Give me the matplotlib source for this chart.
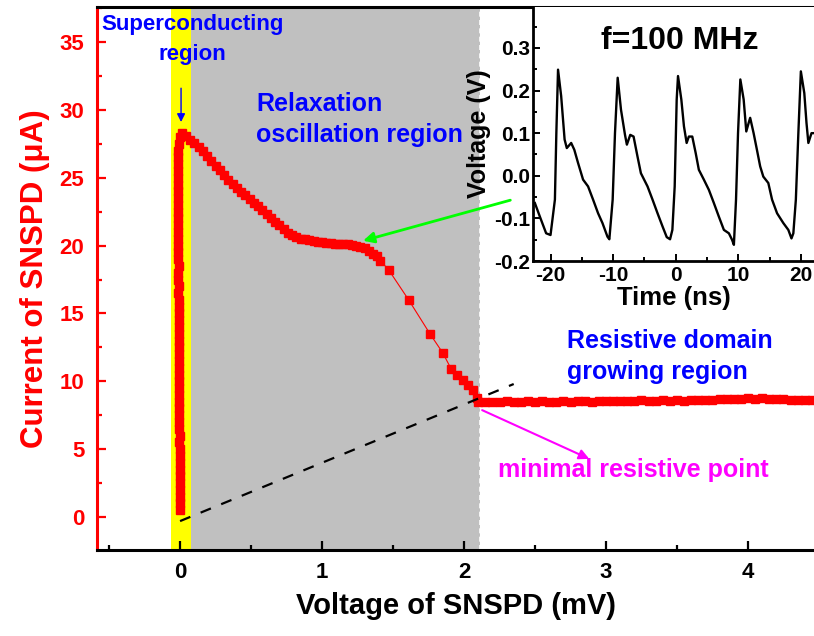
import numpy as np
import matplotlib
matplotlib.use('Agg')
import matplotlib.pyplot as plt
from matplotlib.ticker import MultipleLocator

# superconducting branch (V in mV, I in uA)
sc_v = [0.000, 0.002, -0.001, 0.001, 0.000, -0.002, 0.000, -0.001, -0.003, -0.002,
        -0.004, -0.003, -0.005, -0.004, -0.006, -0.005, -0.004, -0.006, -0.007, -0.005,
        -0.006, -0.008, -0.007, -0.006, -0.008, -0.007, -0.009, -0.008, -0.006, -0.008,
        -0.010, -0.009, -0.011, -0.010, -0.012, -0.011, -0.010, -0.012, -0.013, -0.011,
        -0.012, -0.014, -0.013, -0.012, -0.014, -0.015, -0.013, -0.014, -0.015, -0.014,
        -0.013, -0.015, -0.014, -0.012, -0.008, 0.000, 0.015]
sc_i = [0.5, 1.0, 1.5, 2.0, 2.5, 3.0, 3.5, 4.0, 4.5, 5.0,
        5.5, 6.0, 6.5, 7.0, 7.5, 8.0, 8.5, 9.0, 9.5, 10.0,
        10.5, 11.0, 11.5, 12.0, 12.5, 13.0, 13.5, 14.0, 14.5, 15.0,
        15.5, 16.0, 16.5, 17.0, 17.5, 18.0, 18.5, 19.0, 19.5, 20.0,
        20.5, 21.0, 21.5, 22.0, 22.5, 23.0, 23.5, 24.0, 24.5, 25.0,
        25.5, 26.0, 26.5, 27.0, 27.5, 28.0, 28.3]

# relaxation oscillation branch
relax_v = [0.04, 0.07, 0.10, 0.13, 0.16, 0.19, 0.22, 0.25, 0.28, 0.31,
           0.34, 0.37, 0.40, 0.43, 0.46, 0.49, 0.52, 0.55, 0.58, 0.61,
           0.64, 0.67, 0.70, 0.73, 0.76, 0.79, 0.82, 0.85, 0.88, 0.91,
           0.94, 0.97, 1.00, 1.03, 1.06, 1.09, 1.12, 1.15, 1.18, 1.21,
           1.24, 1.27, 1.30, 1.33, 1.36, 1.39, 1.41,
           1.47, 1.61, 1.76, 1.85, 1.91, 1.95, 1.99, 2.03, 2.06, 2.09]
relax_i = [28.1, 27.8, 27.55, 27.25, 26.95, 26.6, 26.25, 25.9, 25.55, 25.2,
           24.85, 24.55, 24.25, 23.95, 23.7, 23.45, 23.15, 22.9, 22.6, 22.3,
           22.0, 21.75, 21.5, 21.2, 20.95, 20.8, 20.65, 20.5, 20.45, 20.4,
           20.35, 20.3, 20.25, 20.2, 20.2, 20.15, 20.15, 20.1, 20.1, 20.05,
           20.0, 19.9, 19.8, 19.6, 19.4, 19.2, 18.9,
           18.2, 16.0, 13.5, 12.1, 10.9, 10.5, 10.1, 9.7, 9.35, 8.75]

# resistive domain growing branch
res_v = [2.10, 2.15, 2.20, 2.25, 2.30, 2.35, 2.40, 2.45, 2.50, 2.55,
         2.60, 2.65, 2.70, 2.75, 2.80, 2.85, 2.90, 2.95, 3.00, 3.05,
         3.10, 3.15, 3.20, 3.25, 3.30, 3.35, 3.40, 3.45, 3.50, 3.55,
         3.60, 3.65, 3.70, 3.75, 3.80, 3.85, 3.90, 3.95, 4.00, 4.05,
         4.10, 4.15, 4.20, 4.25, 4.30, 4.35, 4.40, 4.45, 4.50]
res_i = [8.50, 8.45, 8.50, 8.48, 8.55, 8.50, 8.47, 8.52, 8.50, 8.55,
         8.50, 8.48, 8.53, 8.50, 8.55, 8.52, 8.50, 8.55, 8.52, 8.58,
         8.55, 8.52, 8.56, 8.60, 8.55, 8.58, 8.62, 8.58, 8.60, 8.57,
         8.62, 8.65, 8.60, 8.65, 8.70, 8.66, 8.72, 8.68, 8.74, 8.70,
         8.75, 8.68, 8.72, 8.66, 8.62, 8.65, 8.60, 8.62, 8.60]

# load line through the minimal resistive point
load_v = [0.0, 2.35]
load_i = [-0.3, 9.8]

# inset: output pulses at f=100 MHz
pulse_t = [-22.5, -21.7, -20.7, -20.0, -19.3, -19.07, -18.8, -18.3, -17.75, -17.4,
           -16.7, -16.2, -15.6, -14.8, -14.0, -13.2, -12.4, -11.7, -10.9, -10.6,
           -10.07, -9.7, -9.27, -8.74, -8.1, -7.8, -7.26, -6.73, -6.1, -5.56,
           -4.5, -3.7, -2.9, -2.1, -1.43, -0.9, -0.53, -0.16, 0.16, 0.37,
           0.9, 1.32, 1.75, 2.1, 2.65, 3.2, 3.7, 4.5, 5.3, 6.1,
           6.9, 7.7, 8.5, 9.0, 9.3, 9.64, 9.96, 10.33, 10.86, 11.28,
           11.66, 11.9, 12.45, 12.98, 13.5, 14.0, 14.8, 15.4, 16.2, 17.2,
           18.0, 18.5, 18.8, 19.2, 19.6, 20.0, 20.55, 20.9, 21.2, 21.7, 22.1]
pulse_v = [-0.064, -0.096, -0.135, -0.139, -0.056, 0.10, 0.249, 0.187, 0.085, 0.065,
           0.077, 0.061, 0.03, -0.009, -0.025, -0.056, -0.088, -0.111, -0.143, -0.149,
           -0.056, 0.10, 0.230, 0.155, 0.096, 0.073, 0.096, 0.092, 0.045, 0.006,
           -0.025, -0.056, -0.088, -0.119, -0.144, -0.149, -0.127, -0.025, 0.179, 0.234,
           0.179, 0.116, 0.077, 0.092, 0.092, 0.053, 0.014, -0.009, -0.033, -0.064,
           -0.096, -0.127, -0.135, -0.150, -0.162, -0.056, 0.10, 0.226, 0.179, 0.104,
           0.124, 0.136, 0.10, 0.061, 0.022, -0.002, -0.017, -0.056, -0.088, -0.111,
           -0.127, -0.147, -0.135, -0.056, 0.10, 0.245, 0.194, 0.124, 0.077, 0.10, 0.10]

plt.rcParams['font.family'] = ['Liberation Sans', 'DejaVu Sans']
plt.rcParams['font.weight'] = 'bold'
plt.rcParams['axes.labelweight'] = 'bold'
plt.rcParams['axes.unicode_minus'] = False

W, H = 814, 636
fig = plt.figure(figsize=(W / 100, H / 100), dpi=100)
ax = fig.add_axes([97 / W, 1 - 550 / H, 1 - 97 / W, (550 - 7) / H])

# region shading
ax.axvspan(-0.063, 0.077, color='#ffff00', lw=0, zorder=0)
ax.axvspan(0.077, 2.11, color='#c0c0c0', lw=0, zorder=0)
ax.axvline(2.11, color='white', ls=(0, (3, 2)), lw=1.2, zorder=0.5)

iv_v = np.concatenate([sc_v, relax_v, res_v])
iv_i = np.concatenate([sc_i, relax_i, res_i])
ax.plot(iv_v, iv_i, color='red', lw=0.8, marker='s', ms=5.2, mec='red', mfc='red', zorder=3)
ax.plot(load_v, load_i, color='black', lw=1.6, dashes=(5, 5), zorder=4)

ax.set_xlim(-0.585, 4.465)
ax.set_ylim(-2.43, 37.58)
ax.xaxis.set_major_locator(MultipleLocator(1))
ax.xaxis.set_minor_locator(MultipleLocator(0.5))
ax.yaxis.set_major_locator(MultipleLocator(5))
ax.yaxis.set_minor_locator(MultipleLocator(2.5))

for s in ['left', 'bottom', 'top']:
    ax.spines[s].set_linewidth(2.2)
ax.spines['left'].set_color('red')
ax.spines['right'].set_visible(False)
ax.tick_params(which='both', direction='in', top=False, right=False, width=1.6)
ax.tick_params(which='major', length=6.5, labelsize=16, pad=9)
ax.tick_params(which='minor', length=3.5)
ax.tick_params(axis='y', which='both', colors='red')

ax.set_xlabel('Voltage of SNSPD (mV)', fontsize=21, labelpad=6)
ax.set_ylabel('Current of SNSPD (μA)', fontsize=22.5, color='red', labelpad=7)

# region labels and arrows
ax.text(0.085, 35.2, 'Superconducting\nregion', color='blue', fontsize=16,
        ha='center', va='center', linespacing=1.6, zorder=5)
ax.text(0.535, 29.3, 'Relaxation\noscillation region', color='blue', fontsize=18,
        ha='left', va='center', linespacing=1.36, zorder=5)
ax.text(2.725, 11.85, 'Resistive domain\ngrowing region', color='blue', fontsize=18,
        ha='left', va='center', linespacing=1.36, zorder=5)
ax.text(2.24, 3.46, 'minimal resistive point', color='magenta', fontsize=18,
        ha='left', va='center', zorder=5)

ax.annotate('', xy=(0.007, 28.9), xytext=(0.007, 31.8),
            arrowprops=dict(arrowstyle='-|>', color='blue', lw=1, mutation_scale=12), zorder=6)
ax.annotate('', xy=(1.27, 20.3), xytext=(2.345, 23.4),
            arrowprops=dict(arrowstyle='-|>', color='#00ff00', lw=2, mutation_scale=16), zorder=6)
ax.annotate('', xy=(2.90, 4.2), xytext=(2.11, 7.96),
            arrowprops=dict(arrowstyle='-|>', color='magenta', lw=1.5, mutation_scale=15), zorder=6)

# inset
ins = fig.add_axes([533 / W, 1 - 261 / H, 1 - 533 / W, (261 - 7) / H])
ins.plot(pulse_t, pulse_v, color='black', lw=1.7)
ins.set_xlim(-22.8, 22.1)
ins.set_ylim(-0.2, 0.396)
ins.xaxis.set_major_locator(MultipleLocator(10))
ins.xaxis.set_minor_locator(MultipleLocator(5))
ins.yaxis.set_major_locator(MultipleLocator(0.1))
ins.yaxis.set_minor_locator(MultipleLocator(0.05))
ins.spines['right'].set_visible(False)
ins.spines['top'].set_visible(False)
for s in ['left', 'bottom']:
    ins.spines[s].set_linewidth(2)
ins.tick_params(which='both', direction='in', width=1.4, labelsize=15)
ins.tick_params(which='major', length=5)
ins.tick_params(which='minor', length=3)
ins.tick_params(axis='y', pad=2)
ins.set_xlabel('Time (ns)', fontsize=18.5, labelpad=1)
ins.set_ylabel('Voltage (V)', fontsize=18, labelpad=2)
ins.text(0.6, 0.317, 'f=100 MHz', fontsize=23, ha='center', va='center')

fig.savefig('out.png', dpi=100)
